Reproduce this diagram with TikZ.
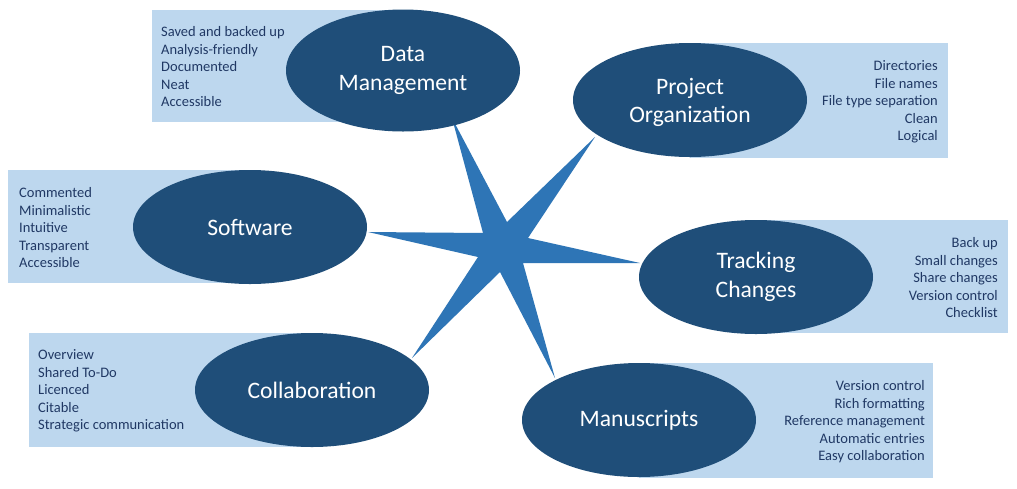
\documentclass[tikz,border=0pt]{standalone}
\usepackage{fontspec}
\setmainfont{Carlito}
\usetikzlibrary{shapes.geometric}
\definecolor{ellfill}{HTML}{1F4E79}
\definecolor{starfill}{HTML}{2E75B6}
\definecolor{listbg}{HTML}{BDD7EE}
\definecolor{listtext}{HTML}{203864}
\tikzset{
  topic/.style={ellipse, fill=ellfill, text=white, minimum width=234pt, minimum height=114pt,
    inner sep=0pt, align=center, font=\fontsize{23.6}{28.5}\selectfont},
  listL/.style={align=left, anchor=west, text=listtext, inner sep=0pt, font=\fontsize{14.5}{17.5}\selectfont},
  listR/.style={align=right, anchor=east, text=listtext, inner sep=0pt, font=\fontsize{14.5}{17.5}\selectfont},
  panel/.style={fill=listbg},
}
\begin{document}
\begin{tikzpicture}[x=1pt,y=-1pt]
\useasboundingbox[fill=white] (0,0) rectangle (1017,488);
% panels
\fill[panel] (152,10) rectangle (395,122);
\fill[panel] (690,43) rectangle (948,158);
\fill[panel] (8,170) rectangle (250,283);
\fill[panel] (756,220) rectangle (1008,333);
\fill[panel] (29,333) rectangle (312,447);
\fill[panel] (639,363) rectangle (933,478);
% star
\fill[starfill] (452,118) -- (507,222) -- (595,137) -- (528,238) -- (640,263) -- (523,263)
  -- (555,378) -- (500,272) -- (412,358) -- (478,257) -- (368,232) -- (483,233) -- cycle;
% topics
\node[topic, minimum height=122pt] (dm) at (403,70.5) {Data\\Management};
\node[topic] (po) at (690,100) {};
\node (pot) at (690,102.5) [text=white, align=center, inner sep=0pt, font=\fontsize{23.6}{28.5}\selectfont] {Project\\Organization};
\node[topic] (sw) at (250,227) {Software};
\node[topic] (tc) at (756,277) {Tracking\\Changes};
\node[topic] (co) at (312,390) {Collaboration};
\node[topic] (ms) at (639,420) {Manuscripts};
% lists
\node[listL] (dml) at (161,67) {Saved and backed up\\Analysis-friendly\\Documented\\Neat\\Accessible};
\node[listR] (pol) at (938,102) {Directories\\File names\\File type separation\\Clean\\Logical};
\node[listL] (swl) at (19,228) {Commented\\Minimalistic\\Intuitive\\Transparent\\Accessible};
\node[listR] (tcl) at (998,278) {Back up\\Small changes\\Share changes\\Version control\\Checklist};
\node[listL] (col) at (38,391) {Overview\\Shared To-Do\\Licenced\\Citable\\Strategic communication};
\node[listR] (msl) at (925,422) {Version control\\Rich formatting\\Reference management\\Automatic entries\\Easy collaboration};
\end{tikzpicture}
\end{document}
